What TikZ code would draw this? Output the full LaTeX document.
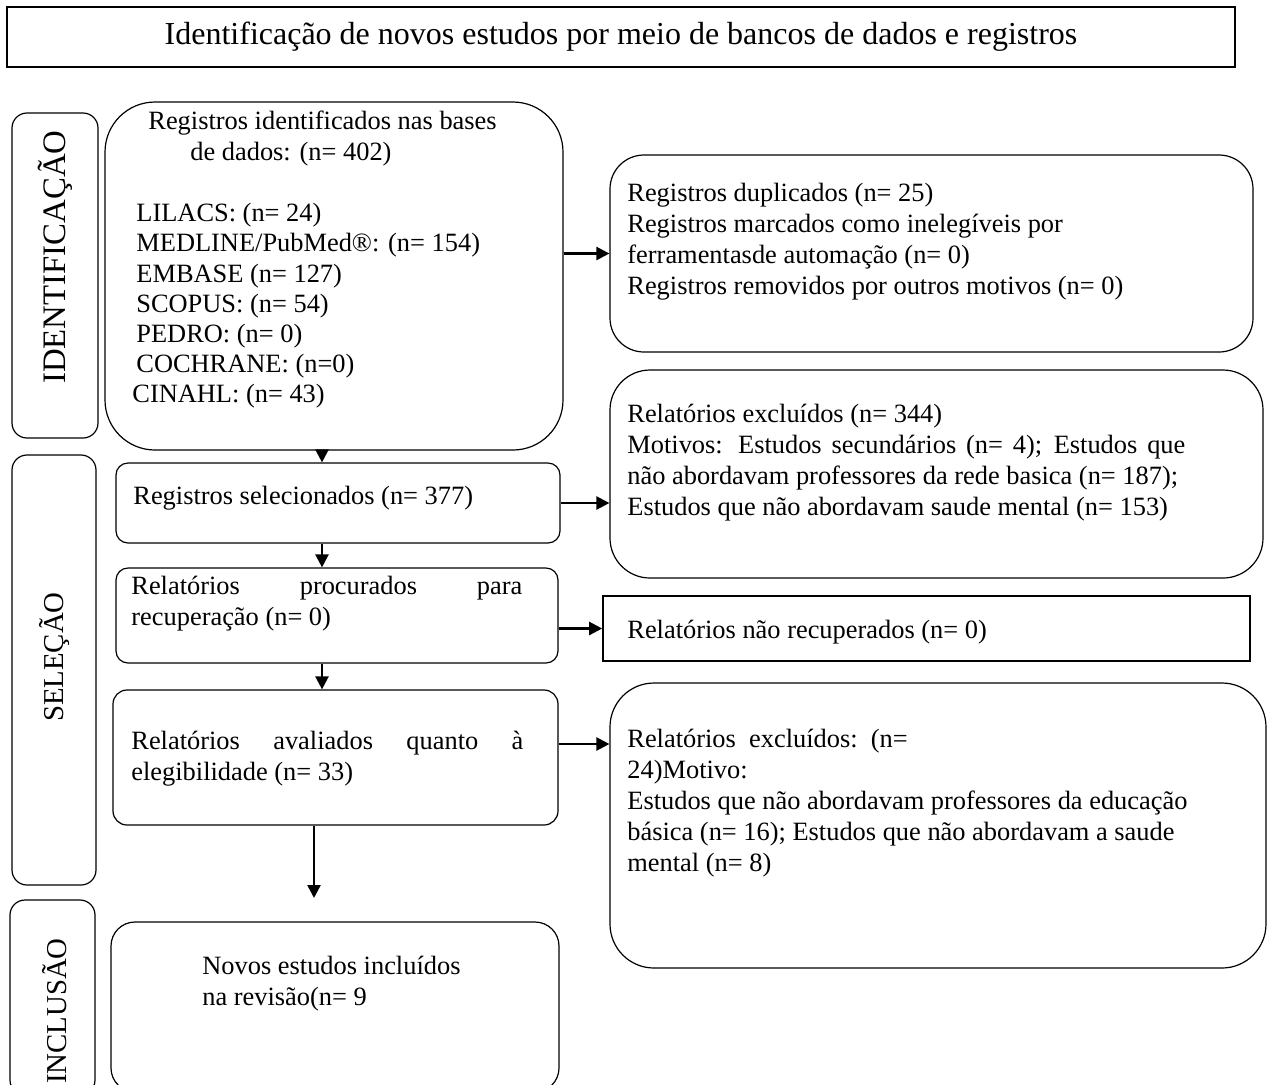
\documentclass[tikz,border=0pt]{standalone}
\usepackage{fontspec}
\setmainfont{Liberation Serif}
\usetikzlibrary{arrows.meta}

\begin{document}
\begin{tikzpicture}[x=0.5pt,y=-0.5pt,
    box/.style={draw,line width=0.6pt,inner sep=0pt},
    txt/.style={anchor=north west,inner sep=0pt,align=left,font=\fontsize{13.2}{15.5}\selectfont},
    side/.style={rotate=90,inner sep=0pt,font=\fontsize{14.4}{17}\selectfont},
    arr/.style={line width=1.2pt,-{Triangle[length=6.5pt,width=6.5pt]}}]
    \useasboundingbox(0,0)rectangle(1270,1084);

    \node[box,line width=0.8pt,minimum width=614pt,minimum height=30pt,font=\fontsize{16}{19}\selectfont](title)at(621,37){Identificação de novos estudos por meio de bancos de dados e registros};

    \node[box,rounded corners=7.5pt,minimum width=43pt,minimum height=162.5pt](sid)at(55,275.5){};
    \node[box,rounded corners=7.5pt,minimum width=42pt,minimum height=215pt](ssel)at(54,670){};
    \node[box,rounded corners=7.5pt,minimum width=42.5pt,minimum height=97.5pt](sinc)at(52.5,997.5){};
    \node[side,font=\fontsize{16.4}{19}\selectfont](lid)at(55,257){IDENTIFICAÇÃO};
    \node[side](lsel)at(55,657){SELEÇÃO};
    \node[side](linc)at(55,1011){INCLUSÃO};

    \node[box,rounded corners=25pt,minimum width=229pt,minimum height=174pt](b1)at(334,276){};
    \node[box,rounded corners=6pt,minimum width=222pt,minimum height=40pt](b2)at(338,503){};
    \node[box,rounded corners=6pt,minimum width=221pt,minimum height=47.5pt](b3)at(337,615.5){};
    \node[box,rounded corners=7pt,minimum width=222.5pt,minimum height=67.5pt](b4)at(335.5,757.5){};
    \node[box,rounded corners=12pt,minimum width=224pt,minimum height=85pt](b5)at(335,1007){};

    \node[box,rounded corners=17pt,minimum width=321.5pt,minimum height=98.5pt](r1)at(931.5,253.5){};
    \node[box,rounded corners=20pt,minimum width=326.5pt,minimum height=104pt](r2)at(936.5,474){};
    \node[box,line width=0.8pt,minimum width=323.5pt,minimum height=32.5pt](r3)at(926.5,628.5){};
    \node[box,rounded corners=22pt,minimum width=328pt,minimum height=142.5pt](r4)at(938,825.5){};

    \node[txt](t1a)at(148,111){Registros identificados nas bases\\\hspace*{21pt}de dados: (n= 402)};
    \node[txt,font=\fontsize{13.2}{15.1}\selectfont](t1b)at(136,203){LILACS: (n= 24)\\MEDLINE/PubMed®: (n= 154)\\EMBASE (n= 127)\\SCOPUS: (n= 54)\\PEDRO: (n= 0)\\COCHRANE: (n=0)\\\hspace*{-2pt}CINAHL: (n= 43)};
    \node[txt](t2)at(133,486){Registros selecionados (n= 377)};
    \node[txt](t3)at(131,576){\makebox[195.5pt][s]{Relatórios procurados para}\\recuperação (n= 0)};
    \node[txt](t4)at(131,731){\makebox[196pt][s]{Relatórios avaliados quanto à}\\elegibilidade (n= 33)};
    \node[txt](t5)at(202,956){Novos estudos incluídos\\na revisão(n= 9};

    \node[txt](tr1)at(627,183){Registros duplicados (n= 25)\\Registros marcados como inelegíveis por\\ferramentasde automação (n= 0)\\Registros removidos por outros motivos (n= 0)};
    \node[txt](tr2)at(627,404){Relatórios excluídos (n= 344)\\\makebox[279pt][s]{Motivos: Estudos secundários (n= 4); Estudos que}\\não abordavam professores da rede basica (n= 187);\\Estudos que não abordavam saude mental (n= 153)};
    \node[txt](tr3)at(627,620){Relatórios não recuperados (n= 0)};
    \node[txt](tr4)at(627,729){Relatórios\ \ excluídos:\ \ (n=\\24)Motivo:\\Estudos que não abordavam professores da educação\\básica (n= 16); Estudos que não abordavam a saude\\mental (n= 8)};

    \coordinate(c1)at(322,0);
    \coordinate(c2)at(314,0);
    \coordinate(e5)at(314,898);
    \coordinate(a4)at(0,744);
    \draw[arr](c1|-b1.south)--(c1|-b2.north);
    \draw[arr](c1|-b2.south)--(c1|-b3.north);
    \draw[arr](c1|-b3.south)--(c1|-b4.north);
    \draw[arr](c2|-b4.south)--(e5);
    \draw[arr](b1.east|-r1.west)--(r1.west);
    \draw[arr](b2.east)--(b2.east-|r2.west);
    \draw[arr](b3.east|-r3.west)--(r3.west);
    \draw[arr](b4.east|-a4)--(r4.west|-a4);
\end{tikzpicture}
\end{document}
